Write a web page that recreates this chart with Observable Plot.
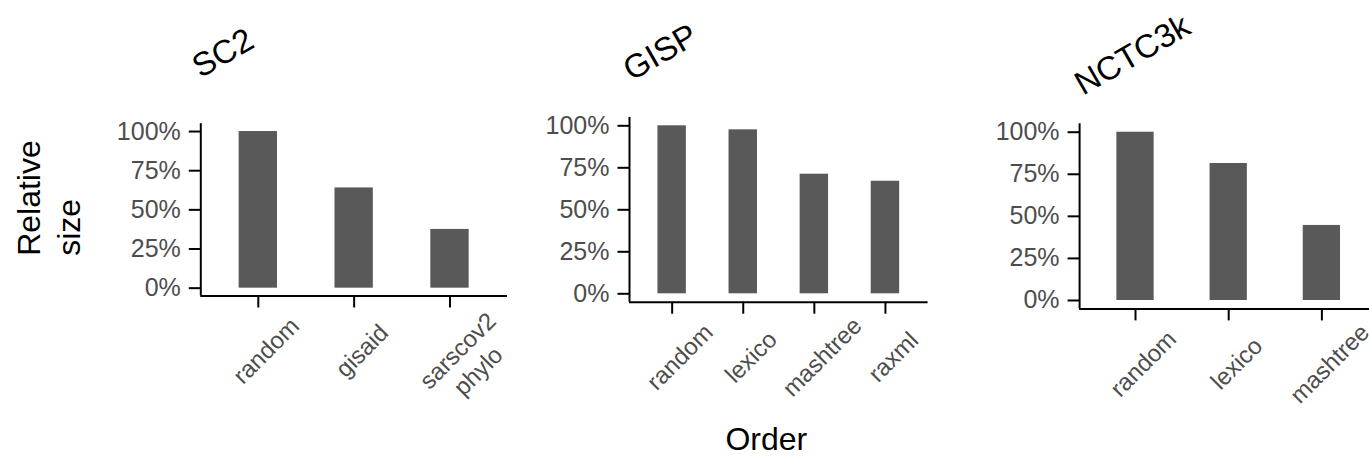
<!DOCTYPE html>
<html>
<head>
<meta charset="utf-8">
<script src="https://cdn.jsdelivr.net/npm/d3@7"></script>
<script src="https://cdn.jsdelivr.net/npm/@observablehq/plot@0.6"></script>
<style>
  html, body { margin: 0; padding: 0; background: #ffffff; overflow: hidden; width: 1369px; height: 457px; }
  #chart { position: relative; width: 1369px; height: 457px; overflow: hidden; }
  #chart > svg { position: absolute; top: 0; }
</style>
</head>
<body>
<div id="chart"></div>
<script>
// ---- data ----
const panelTitles = ["SC2", "GISP", "NCTC3k"];
const sc2Orders = ["random", "gisaid", "sarscov2\nphylo"];
const sc2Values = [1.00, 0.64, 0.375];
const gispOrders = ["random", "lexico", "mashtree", "raxml"];
const gispValues = [1.00, 0.976, 0.712, 0.670];
const nctcOrders = ["random", "lexico", "mashtree"];
const nctcValues = [1.00, 0.814, 0.446];
const yTicks = [0, 0.25, 0.5, 0.75, 1];
const yAxisTitle = "Relative\nsize";
const xAxisTitle = "Order";

// ---- layout ----
const FONT = "'Liberation Sans', Arial, Helvetica, sans-serif";
const H = 457;
const layouts = [
  {left: 0,   width: 540, ml: 200.3, mr: 33,   mt: 123.2, mb: 161.5, tdx: -0.3, tdy: -45.3},
  {left: 540, width: 420, ml: 89,    mr: 32.4, mt: 116.9, mb: 155.3, tdx: 2,    tdy: -36},
  {left: 960, width: 440, ml: 119.1, mr: 22.7, mt: 123.3, mb: 148.6, tdx: 3.5,  tdy: -28}
];

function makePanel(title, orders, values, L, extra = []) {
  const data = orders.map((o, i) => ({order: o, value: values[i]}));
  const frameW = L.width - L.ml - L.mr;
  const step = frameW / (orders.length + 0.2);
  const plot = Plot.plot({
    width: L.width,
    height: H,
    marginLeft: L.ml, marginRight: L.mr, marginTop: L.mt, marginBottom: L.mb,
    style: {fontFamily: FONT, background: "transparent", overflow: "visible"},
    x: {type: "band", domain: orders, paddingInner: 0.6, paddingOuter: 0.4, round: false, align: 0.5},
    y: {domain: [-0.05, 1.05]},
    marks: [
      Plot.barY(data, {x: "order", y: "value", fill: "#595959"}),
      Plot.axisY({ticks: yTicks, tickFormat: d3.format(".0%"), tickSize: 11.5, tickPadding: 8.5,
                  fontSize: 25, fill: "#4d4d4d", stroke: "black", strokeWidth: 2, label: null}),
      Plot.axisX({tickSize: 12, tickFormat: () => "", stroke: "black", strokeWidth: 2, label: null}),
      Plot.ruleY([-0.05], {stroke: "black", strokeWidth: 2}),
      Plot.ruleX([orders[0]], {dx: -0.6 * step, stroke: "black", strokeWidth: 2}),
      Plot.text(orders, {x: d => d, text: d => d, frameAnchor: "bottom", rotate: -45,
                         textAnchor: "middle", lineAnchor: "top", lineHeight: 1.2,
                         dx: -1, dy: 46, fontSize: 24, fill: "#4d4d4d"}),
      Plot.text([title], {text: d => d, frameAnchor: "top-left", rotate: -30, textAnchor: "start",
                          lineAnchor: "bottom", dx: L.tdx, dy: L.tdy, fontSize: 33, fill: "black"}),
      ...extra
    ]
  });
  plot.style.left = L.left + "px";
  return plot;
}

const chart = document.getElementById("chart");
chart.appendChild(makePanel(panelTitles[0], sc2Orders, sc2Values, layouts[0], [
  Plot.text([yAxisTitle], {text: d => d, frameAnchor: "left", rotate: -90, textAnchor: "start",
                           lineAnchor: "top", lineHeight: 1.25, fontSize: 32, dx: -189.2, dy: 46, fill: "black"})
]));
chart.appendChild(makePanel(panelTitles[1], gispOrders, gispValues, layouts[1], [
  Plot.text([xAxisTitle], {text: d => d, frameAnchor: "bottom", textAnchor: "middle", lineAnchor: "bottom",
                           fontSize: 32, dx: -12.5, dy: 147.5, fill: "black"})
]));
chart.appendChild(makePanel(panelTitles[2], nctcOrders, nctcValues, layouts[2]));
</script>
</body>
</html>
